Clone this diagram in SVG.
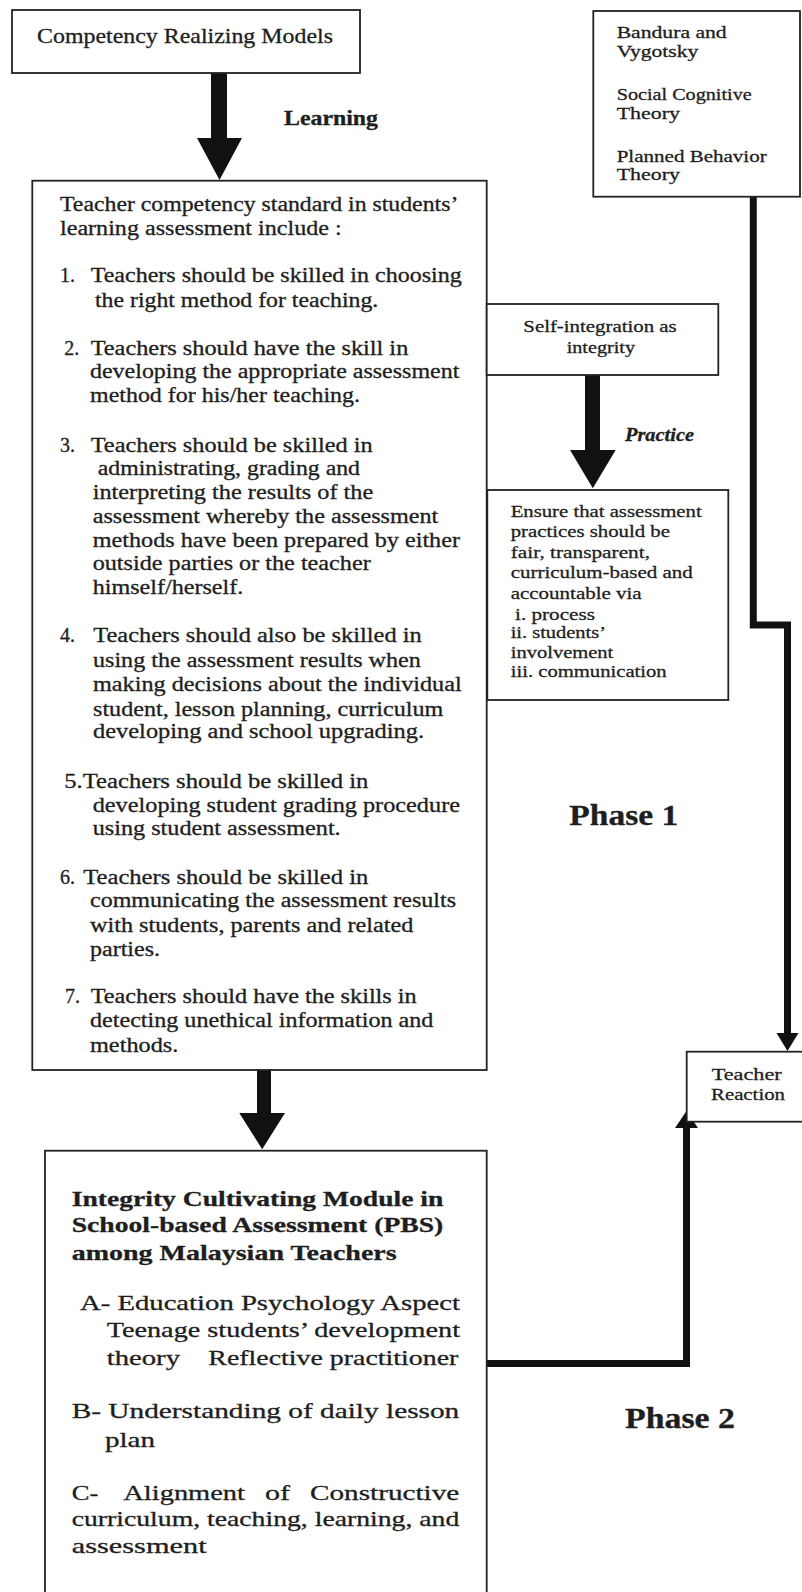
<svg xmlns="http://www.w3.org/2000/svg" width="802" height="1592" viewBox="0 0 802 1592">
<style>
.box{fill:#fff;stroke:#222;stroke-width:1.8}
text{font-family:"Liberation Serif","Times New Roman",serif;fill:#1e1e1e;stroke:#1e1e1e;stroke-width:0.3}
.m{font-size:20px}
.s{font-size:17.5px}
.l{font-size:21px}
.b{font-weight:bold}
.w{stroke:#111;stroke-width:7;fill:none}
.ah{fill:#111}
</style>
<rect width="802" height="1592" fill="#fff"/>

<g id="connectors">
  <polygon class="ah" points="211,73 227,73 227,138 242,138 219.5,180 197,138 211,138"/>
  <polygon class="ah" points="585,375 600,375 600,450 615.7,450 592.8,488.3 570,450 585,450"/>
  <polygon class="ah" points="257,1070 271,1070 271,1113 285,1113 262.2,1149.3 239.3,1113 257,1113"/>
  <path class="w" d="M753.3,197 V625 H787.5 V1034"/>
  <polygon class="ah" points="776.5,1033 798.5,1033 787.5,1051"/>
  <path class="w" d="M482,1363.5 H686.5 V1127"/>
  <polygon class="ah" points="675,1128 698,1128 686.5,1111"/>
</g>

<g id="edge-labels">
  <text class="l b" x="284" y="125" textLength="94" lengthAdjust="spacingAndGlyphs">Learning</text>
  <text class="b" font-style="italic" font-size="18" x="625" y="440.7" textLength="69" lengthAdjust="spacingAndGlyphs">Practice</text>
</g>

<g id="phase-labels">
  <text class="b" font-size="29" x="569.3" y="825" textLength="109" lengthAdjust="spacingAndGlyphs">Phase 1</text>
  <text class="b" font-size="29" x="625" y="1428.3" textLength="110" lengthAdjust="spacingAndGlyphs">Phase 2</text>
</g>

<g id="competency-realizing-models">
  <rect class="box" x="12" y="10" width="348" height="63"/>
  <text class="l" x="37" y="43" textLength="296" lengthAdjust="spacingAndGlyphs">Competency Realizing Models</text>
</g>

<g id="theories">
  <rect class="box" x="593.3" y="11" width="206.7" height="185.7"/>
  <text class="s" x="616.7" y="38.3" textLength="110" lengthAdjust="spacingAndGlyphs">Bandura and</text>
  <text class="s" x="616.7" y="56.7" textLength="81.6" lengthAdjust="spacingAndGlyphs">Vygotsky</text>
  <text class="s" x="616.7" y="100" textLength="135" lengthAdjust="spacingAndGlyphs">Social Cognitive</text>
  <text class="s" x="616.7" y="119" textLength="63.3" lengthAdjust="spacingAndGlyphs">Theory</text>
  <text class="s" x="616.7" y="161.7" textLength="150" lengthAdjust="spacingAndGlyphs">Planned Behavior</text>
  <text class="s" x="616.7" y="180" textLength="63.3" lengthAdjust="spacingAndGlyphs">Theory</text>
</g>

<g id="teacher-competency-standard">
  <rect class="box" x="32.3" y="180.7" width="454.4" height="889.3"/>
  <text class="m" x="60" y="210.7" textLength="398.3" lengthAdjust="spacingAndGlyphs">Teacher competency standard in students’</text>
  <text class="m" x="60" y="235" textLength="281.7" lengthAdjust="spacingAndGlyphs">learning assessment include :</text>

  <text class="m" x="60" y="281.7">1.</text>
  <text class="m" x="90.7" y="281.7" textLength="371" lengthAdjust="spacingAndGlyphs">Teachers should be skilled in choosing</text>
  <text class="m" x="95" y="306.7" textLength="283.3" lengthAdjust="spacingAndGlyphs">the right method for teaching.</text>

  <text class="m" x="64.3" y="355">2.</text>
  <text class="m" x="90.7" y="355" textLength="317.6" lengthAdjust="spacingAndGlyphs">Teachers should have the skill in</text>
  <text class="m" x="90" y="378.3" textLength="369.3" lengthAdjust="spacingAndGlyphs">developing the appropriate assessment</text>
  <text class="m" x="90" y="401.7" textLength="270" lengthAdjust="spacingAndGlyphs">method for his/her teaching.</text>

  <text class="m" x="60" y="451.7">3.</text>
  <text class="m" x="90.7" y="451.7" textLength="282" lengthAdjust="spacingAndGlyphs">Teachers should be skilled in</text>
  <text class="m" x="97.7" y="474.5" textLength="262.3" lengthAdjust="spacingAndGlyphs">administrating, grading and</text>
  <text class="m" x="92.7" y="498.5" textLength="280.6" lengthAdjust="spacingAndGlyphs">interpreting the results of the</text>
  <text class="m" x="92.7" y="522.5" textLength="345.6" lengthAdjust="spacingAndGlyphs">assessment whereby the assessment</text>
  <text class="m" x="92.7" y="546.7" textLength="367.3" lengthAdjust="spacingAndGlyphs">methods have been prepared by either</text>
  <text class="m" x="92.7" y="570.3" textLength="278" lengthAdjust="spacingAndGlyphs">outside parties or the teacher</text>
  <text class="m" x="92.7" y="594" textLength="150.6" lengthAdjust="spacingAndGlyphs">himself/herself.</text>

  <text class="m" x="60" y="641.7">4.</text>
  <text class="m" x="93.3" y="641.7" textLength="328.4" lengthAdjust="spacingAndGlyphs">Teachers should also be skilled in</text>
  <text class="m" x="93" y="666.5" textLength="327.7" lengthAdjust="spacingAndGlyphs">using the assessment results when</text>
  <text class="m" x="93" y="690.7" textLength="368.7" lengthAdjust="spacingAndGlyphs">making  decisions about the individual</text>
  <text class="m" x="93" y="715.5" textLength="350.3" lengthAdjust="spacingAndGlyphs">student, lesson planning, curriculum</text>
  <text class="m" x="93" y="738.3" textLength="331" lengthAdjust="spacingAndGlyphs">developing  and school upgrading.</text>

  <text class="m" x="64.3" y="788.3" textLength="304" lengthAdjust="spacingAndGlyphs">5.Teachers should be skilled in</text>
  <text class="m" x="92.7" y="812.3" textLength="367.3" lengthAdjust="spacingAndGlyphs">developing  student grading procedure</text>
  <text class="m" x="92.7" y="835" textLength="248" lengthAdjust="spacingAndGlyphs">using student assessment.</text>

  <text class="m" x="60" y="884.3">6.</text>
  <text class="m" x="83.3" y="884.3" textLength="285" lengthAdjust="spacingAndGlyphs">Teachers should be skilled in</text>
  <text class="m" x="90" y="906.7" textLength="366" lengthAdjust="spacingAndGlyphs">communicating the assessment results</text>
  <text class="m" x="90" y="931.7" textLength="323.3" lengthAdjust="spacingAndGlyphs">with students, parents and related</text>
  <text class="m" x="90" y="956" textLength="70" lengthAdjust="spacingAndGlyphs">parties.</text>

  <text class="m" x="65" y="1003.3">7.</text>
  <text class="m" x="90.7" y="1003.3" textLength="326" lengthAdjust="spacingAndGlyphs">Teachers should have the skills in</text>
  <text class="m" x="90" y="1026.7" textLength="343.3" lengthAdjust="spacingAndGlyphs">detecting unethical information and</text>
  <text class="m" x="90" y="1051.7" textLength="88.3" lengthAdjust="spacingAndGlyphs">methods.</text>
</g>

<g id="self-integration">
  <rect class="box" x="486.7" y="304" width="231.6" height="71"/>
  <text class="s" x="523.3" y="331.7" textLength="153.4" lengthAdjust="spacingAndGlyphs">Self-integration as</text>
  <text class="s" x="566.7" y="353.3" textLength="68.3" lengthAdjust="spacingAndGlyphs">integrity</text>
</g>

<g id="assessment-practices">
  <rect class="box" x="487.3" y="490" width="241" height="210"/>
  <text class="s" x="510.7" y="516.7" textLength="191" lengthAdjust="spacingAndGlyphs">Ensure that assessment</text>
  <text class="s" x="510.7" y="537.3" textLength="159.3" lengthAdjust="spacingAndGlyphs">practices should be</text>
  <text class="s" x="510.7" y="558.3" textLength="139.3" lengthAdjust="spacingAndGlyphs">fair, transparent,</text>
  <text class="s" x="510.7" y="578" textLength="182" lengthAdjust="spacingAndGlyphs">curriculum-based and</text>
  <text class="s" x="510.7" y="599.3" textLength="131" lengthAdjust="spacingAndGlyphs">accountable via</text>
  <text class="s" x="515" y="620" textLength="80" lengthAdjust="spacingAndGlyphs">i. process</text>
  <text class="s" x="510.7" y="638.3" textLength="95.3" lengthAdjust="spacingAndGlyphs">ii. students’</text>
  <text class="s" x="510.7" y="658.3" textLength="102.6" lengthAdjust="spacingAndGlyphs">involvement</text>
  <text class="s" x="510.7" y="676.7" textLength="156" lengthAdjust="spacingAndGlyphs">iii.  communication</text>
</g>

<g id="teacher-reaction">
  <rect class="box" x="686.7" y="1051.7" width="130" height="70"/>
  <text class="s" x="711.7" y="1080" textLength="70" lengthAdjust="spacingAndGlyphs">Teacher</text>
  <text class="s" x="711" y="1100" textLength="74" lengthAdjust="spacingAndGlyphs">Reaction</text>
</g>

<g id="integrity-cultivating-module">
  <rect class="box" x="45" y="1150.7" width="441.7" height="470"/>
  <text class="b" font-size="22" x="71.7" y="1205.5" textLength="371.6" lengthAdjust="spacingAndGlyphs">Integrity Cultivating Module in</text>
  <text class="b" font-size="22" x="71.7" y="1232" textLength="371.6" lengthAdjust="spacingAndGlyphs">School-based Assessment (PBS)</text>
  <text class="b" font-size="22" x="71.7" y="1260" textLength="325" lengthAdjust="spacingAndGlyphs">among Malaysian Teachers</text>
  <text class="l" x="80" y="1310" textLength="380" lengthAdjust="spacingAndGlyphs">A- Education Psychology Aspect</text>
  <text class="l" x="106.7" y="1336.7" textLength="353.3" lengthAdjust="spacingAndGlyphs">Teenage students’ development</text>
  <text class="l" x="106.7" y="1365" textLength="73.3" lengthAdjust="spacingAndGlyphs">theory</text>
  <text class="l" x="208.3" y="1365" textLength="250" lengthAdjust="spacingAndGlyphs">Reflective practitioner</text>
  <text class="l" x="71.7" y="1418.3" textLength="387.6" lengthAdjust="spacingAndGlyphs">B- Understanding of daily lesson</text>
  <text class="l" x="105" y="1446.7" textLength="50" lengthAdjust="spacingAndGlyphs">plan</text>
  <text class="l" x="71.7" y="1500" textLength="26.6" lengthAdjust="spacingAndGlyphs">C-</text>
  <text class="l" x="123.3" y="1500" textLength="121.7" lengthAdjust="spacingAndGlyphs">Alignment</text>
  <text class="l" x="265" y="1500" textLength="25" lengthAdjust="spacingAndGlyphs">of</text>
  <text class="l" x="310" y="1500" textLength="149.3" lengthAdjust="spacingAndGlyphs">Constructive</text>
  <text class="l" x="71.7" y="1526" textLength="387.6" lengthAdjust="spacingAndGlyphs">curriculum, teaching, learning, and</text>
  <text class="l" x="71.7" y="1553.3" textLength="135" lengthAdjust="spacingAndGlyphs">assessment</text>
</g>
</svg>
